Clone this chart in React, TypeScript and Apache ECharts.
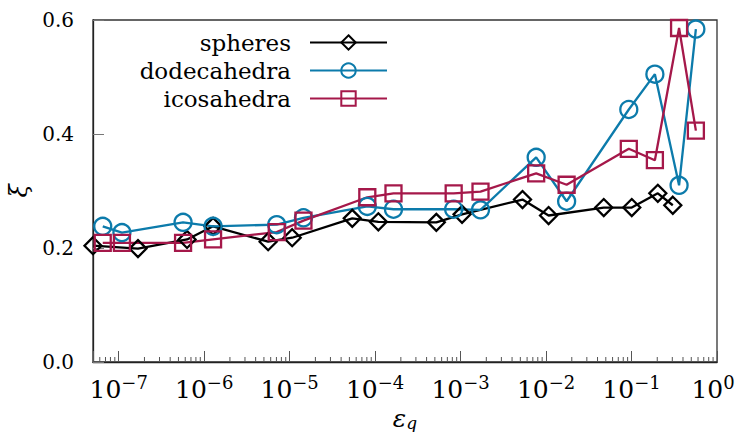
import React, { useEffect, useRef } from "react";
import * as echarts from "echarts";

const FONT = "DejaVu Serif";

// x values (epsilon_q) and xi values
const epsSpheres = [5e-8, 1.68e-7, 6.3e-7, 1.27e-6, 5.6e-6, 1.07e-5, 5.4e-5, 1.09e-4, 5.2e-4, 1.04e-3, 5.3e-3, 1.07e-2, 0.0473, 0.1006, 0.203, 0.304];
const xiSpheres = [0.204, 0.199, 0.215, 0.238, 0.211, 0.218, 0.252, 0.246, 0.245, 0.259, 0.285, 0.257, 0.271, 0.271, 0.296, 0.275];

const epsPolyhedra = [6.5e-8, 1.09e-7, 5.66e-7, 1.27e-6, 7.06e-6, 1.45e-5, 8.1e-5, 1.64e-4, 8.3e-4, 1.71e-3, 7.66e-3, 0.0174, 0.0929, 0.1876, 0.36, 0.566];
const xiDodecahedra = [0.238, 0.227, 0.245, 0.238, 0.241, 0.253, 0.273, 0.268, 0.268, 0.267, 0.359, 0.282, 0.443, 0.505, 0.31, 0.584];
const xiIcosahedra = [0.209, 0.209, 0.209, 0.215, 0.228, 0.248, 0.289, 0.296, 0.296, 0.299, 0.331, 0.311, 0.374, 0.354, 0.586, 0.406];

const seriesNames = ["spheres", "dodecahedra", "icosahedra"];
const yTicks = [0, 0.2, 0.4, 0.6];

// minor log ticks (axis decoration): 2..9 x 10^k
const minorDecades = [-8, -7, -6, -5, -4, -3, -2, -1];
const minorMults = [2, 3, 4, 5, 6, 7, 8, 9];

const X_MIN = 5e-8;
const X_MAX = 1;

export default function App() {
  const ref = useRef<HTMLDivElement>(null);

  useEffect(() => {
    if (!ref.current) return;
    const chart = echarts.init(ref.current, null, { renderer: "svg" });

    const minorTickValues: number[] = [];
    minorDecades.forEach((d) =>
      minorMults.forEach((m) => {
        const v = m * Math.pow(10, d);
        if (v > X_MIN && v < X_MAX) minorTickValues.push(v);
      })
    );

    const pair = (xs: number[], ys: number[]) => xs.map((x, i) => [x, ys[i]]);

    const lineSeries = (name: string, xs: number[], ys: number[], color: string, symbol: string, size: number | number[]) => ({
      name,
      type: "line",
      data: pair(xs, ys),
      symbol,
      symbolSize: size,
      showAllSymbol: true,
      lineStyle: { color, width: 2.3 },
      itemStyle: { color: "rgba(255,255,255,0)", borderColor: color, borderWidth: 2.3 },
      color,
      emphasis: { disabled: true },
      clip: false,
      z: 3,
    });

    const option: any = {
      animation: false,
      backgroundColor: "#fff",
      grid: { left: 93, right: 20, top: 20, bottom: 70, show: true, borderColor: "#333", borderWidth: 1.3, outerBoundsMode: "none" },
      legend: {
        data: seriesNames,
        orient: "vertical",
        align: "right",
        right: 349,
        top: 31,
        padding: 0,
        itemGap: 5,
        itemWidth: 77,
        itemHeight: 18,
        textStyle: { fontFamily: FONT, fontSize: 23, color: "#000", padding: [0, 14, 0, 0] },
        selectedMode: false,
      },
      xAxis: {
        type: "log",
        logBase: 10,
        min: X_MIN,
        max: X_MAX,
        name: "{e|ε}{q|q}",
        nameLocation: "middle",
        nameGap: 27,
        nameTextStyle: {
          rich: {
            e: { fontFamily: FONT, fontStyle: "italic", fontSize: 25, color: "#000" },
            q: { fontFamily: FONT, fontStyle: "italic", fontSize: 17, color: "#000", padding: [9, 0, 0, 0] },
          },
        },
        axisLine: { lineStyle: { color: "#222", width: 1.3 } },
        axisTick: { inside: true, length: 11, lineStyle: { color: "#555", width: 1 } },
        splitLine: { show: false },
        axisLabel: {
          interval: 0,
          margin: 11,
          fontSize: 25,
          fontFamily: FONT,
          formatter: (v: number) => {
            const l = Math.log10(v);
            const e = Math.round(l);
            if (Math.abs(l - e) > 1e-6) return "";
            if (e === 0) return "{b|10}{s0|0}";
            return `{b|10}{s|${e < 0 ? "−" + -e : e}}`;
          },
          rich: {
            b: { fontFamily: FONT, fontSize: 25, color: "#000" },
            s: { fontFamily: FONT, fontSize: 18, color: "#000", padding: [0, 0, 14, 0] },
            s0: { fontFamily: FONT, fontSize: 18, color: "#000", padding: [0, 8, 14, 0] },
          },
        },
      },
      yAxis: {
        type: "value",
        min: yTicks[0],
        max: yTicks[yTicks.length - 1],
        interval: 0.2,
        name: "ξ",
        nameLocation: "middle",
        nameGap: 62,
        nameTextStyle: { fontFamily: FONT, fontStyle: "italic", fontSize: 24, color: "#000" },
        axisLine: { show: true, lineStyle: { color: "#222", width: 1.3 } },
        axisTick: { inside: true, length: 11, lineStyle: { color: "#777", width: 1 } },
        splitLine: { show: false },
        axisLabel: {
          margin: 19,
          fontFamily: FONT,
          fontSize: 20,
          color: "#000",
          formatter: (v: number) => v.toFixed(1),
        },
      },
      series: [
        {
          name: "minorTicks",
          type: "custom",
          silent: true,
          clip: false,
          data: minorTickValues.map((v) => [v, 0]),
          encode: { x: 0, y: 1 },
          renderItem: (_p: any, api: any) => {
            const pt = api.coord([api.value(0), 0]);
            return {
              type: "line",
              shape: { x1: pt[0], y1: pt[1], x2: pt[0], y2: pt[1] - 5 },
              style: { stroke: "#555", lineWidth: 1 },
            };
          },
          z: 1,
        },
        lineSeries(seriesNames[0], epsSpheres, xiSpheres, "#000000", "diamond", 17),
        lineSeries(seriesNames[1], epsPolyhedra, xiDodecahedra, "#0c7bab", "circle", 17),
        lineSeries(seriesNames[2], epsPolyhedra, xiIcosahedra, "#a5184a", "rect", 16),
      ],
    };

    chart.setOption(option);
    return () => chart.dispose();
  }, []);

  return (
    <div
      ref={ref}
      style={{ position: "absolute", left: 0, top: 0, width: 737, height: 432, background: "#fff" }}
    />
  );
}
